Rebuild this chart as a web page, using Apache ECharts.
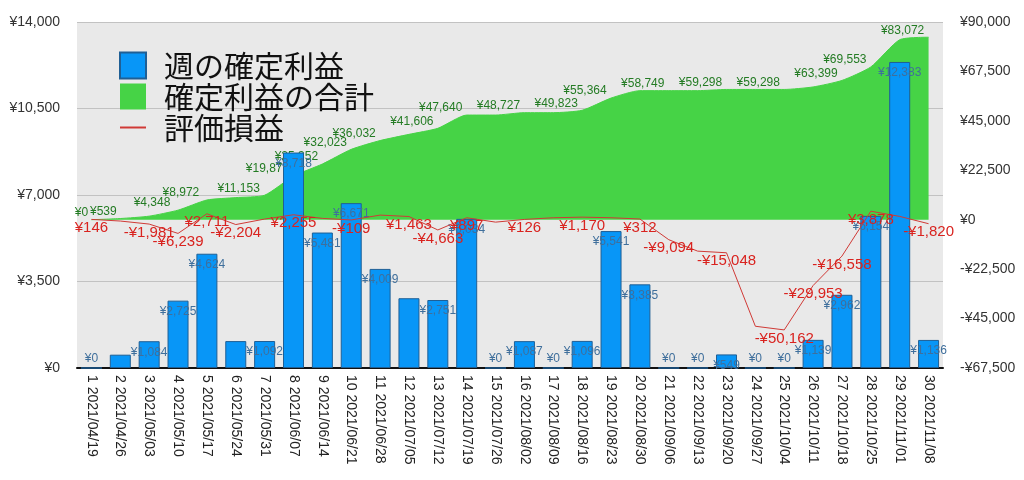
<!DOCTYPE html>
<html>
<head>
<meta charset="utf-8">
<script src="https://cdn.jsdelivr.net/npm/echarts@6/dist/echarts.min.js"></script>
<style>
  html, body { margin: 0; padding: 0; background: #fff; }
  #main { width: 1024px; height: 480px; }
</style>
</head>
<body>
<div id="main"></div>
<script>
  const weeks = [
    '1 2021/04/19', '2 2021/04/26', '3 2021/05/03', '4 2021/05/10', '5 2021/05/17',
    '6 2021/05/24', '7 2021/05/31', '8 2021/06/07', '9 2021/06/14', '10 2021/06/21',
    '11 2021/06/28', '12 2021/07/05', '13 2021/07/12', '14 2021/07/19', '15 2021/07/26',
    '16 2021/08/02', '17 2021/08/09', '18 2021/08/16', '19 2021/08/23', '20 2021/08/30',
    '21 2021/09/06', '22 2021/09/13', '23 2021/09/20', '24 2021/09/27', '25 2021/10/04',
    '26 2021/10/11', '27 2021/10/18', '28 2021/10/25', '29 2021/11/01', '30 2021/11/08',
  ]
  // 週の確定利益
  const weeklyProfit = [
    0, 539, 1084, 2725, 4624, 1089, 1092, 8718, 5481, 6671,
    4009, 2823, 2751, 6034, 0, 1087, 0, 1096, 5541, 3385,
    0, 0, 549, 0, 0, 1139, 2962, 6154, 12383, 1136,
  ]
  // 確定利益の合計
  const totalProfit = [
    0, 539, 1623, 4348, 8972, 10061, 11153, 19871, 25352, 32023,
    36032, 38855, 41606, 47640, 47640, 48727, 48727, 49823, 55364, 58749,
    58749, 58749, 59298, 59298, 59298, 60437, 63399, 69553, 81936, 83072,
  ]
  // 評価損益
  const unrealized = [
    146, -600, -1981, -6239, 2711, -2204, 300, 2255, 600, -109,
    2100, 1463, -4663, 897, -1100, 126, 900, 1170, 900, 312,
    -9094, -14300, -15048, -48500, -50162, -29953, -16558, 3878, 1500, -1820,
  ]
  const leftTicks = { min: 0, max: 14000, interval: 3500 }
  const rightTicks = { min: -67500, max: 90000, interval: 22500 }

  // which points carry a value label (1-based week numbers)
  const weeklyNoLabel = [2, 6, 12]
  const totalWithLabel = [1, 2, 4, 5, 7, 8, 9, 10, 11, 13, 14, 16, 18, 19, 21, 23, 25, 27, 28, 30]
  const unrealizedWithLabel = [1, 3, 4, 5, 6, 8, 10, 12, 13, 14, 16, 18, 20, 21, 23, 25, 26, 27, 28, 30]

  const yen = (v) => (v < 0 ? '-' : '') + '¥' + Math.abs(v).toLocaleString('en-US')
  const font = "'Liberation Sans', 'Noto Sans CJK JP', sans-serif"
  // an empty marker: the line keeps its labels, the legend shows only the stroke
  const noMarker = 'path://M0,0L1,1'

  const chart = echarts.init(document.getElementById('main'))

  const option = {
    animation: false,
    textStyle: { fontFamily: font },
    grid: {
      left: 77,
      right: 81,
      top: 22,
      bottom: 112,
      show: true,
      backgroundColor: '#e9e9e9',
      borderWidth: 0,
    },
    legend: {
      left: 119,
      top: 50,
      padding: 0,
      orient: 'vertical',
      itemWidth: 26,
      itemHeight: 26,
      itemGap: 0,
      textStyle: {
        fontSize: 30,
        lineHeight: 31,
        color: '#111',
        fontFamily: "'Noto Sans CJK JP', sans-serif",
        padding: [0, 0, 0, 13],
      },
      data: [
        { name: '週の確定利益', icon: 'rect' },
        { name: '確定利益の合計', icon: 'rect' },
        { name: '評価損益' },
      ],
    },
    xAxis: {
      type: 'category',
      data: weeks,
      axisLine: { lineStyle: { color: '#111', width: 2 } },
      axisTick: { show: false },
      axisLabel: {
        rotate: -90,
        interval: 0,
        margin: 7,
        fontSize: 14,
        color: '#222',
      },
    },
    yAxis: [
      {
        type: 'value',
        min: leftTicks.min,
        max: leftTicks.max,
        interval: leftTicks.interval,
        axisLine: { show: false },
        axisTick: { show: false },
        splitLine: { lineStyle: { color: '#c2c2c2', width: 1 } },
        axisLabel: { fontSize: 14, color: '#333', margin: 17, formatter: yen },
      },
      {
        type: 'value',
        min: rightTicks.min,
        max: rightTicks.max,
        interval: rightTicks.interval,
        axisLine: { show: false },
        axisTick: { show: false },
        splitLine: { show: false },
        axisLabel: { fontSize: 14, color: '#333', margin: 17, formatter: yen },
      },
    ],
    series: [
      {
        name: '確定利益の合計',
        type: 'line',
        z: 1,
        yAxisIndex: 1,
        smooth: 0.2,
        symbol: 'circle',
        symbolSize: 0.01,
        showSymbol: true,
        itemStyle: { color: '#46d346' },
        lineStyle: { color: '#46d346', width: 1 },
        areaStyle: { color: '#46d346', opacity: 1 },
        label: {
          show: true,
          position: 'top',
          distance: 1,
          fontSize: 12,
          color: '#237b23',
          formatter: (p) => yen(p.value),
        },
        data: totalProfit.map((v, i) => ({
          value: v,
          label: {
            show: totalWithLabel.includes(i + 1),
            offset: i === 0 ? [-10, 0] : i === 1 ? [-17, 0] : [-26, 0],
          },
        })),
      },
      {
        name: '週の確定利益',
        type: 'bar',
        z: 3,
        yAxisIndex: 0,
        barWidth: 21,
        itemStyle: { color: '#0896f7', borderColor: '#1f5f95', borderWidth: 1 },
        label: {
          show: true,
          position: 'insideTop',
          fontSize: 12,
          color: '#3f6f9c',
          formatter: (p) => yen(p.value),
        },
        data: weeklyProfit.map((v, i) => {
          if (weeklyNoLabel.includes(i + 1)) return { value: v, label: { show: false } }
          if (v === 0) return { value: v, label: { position: 'top', distance: 3 } }
          return v
        }),
      },
      {
        name: '評価損益',
        type: 'line',
        z: 4,
        yAxisIndex: 1,
        symbol: noMarker,
        symbolSize: 0.01,
        showSymbol: true,
        itemStyle: { color: '#d03a36', borderWidth: 0 },
        lineStyle: { color: '#d03a36', width: 1 },
        label: {
          show: true,
          position: 'bottom',
          distance: 1,
          fontSize: 15,
          color: '#d9231f',
          formatter: (p) => yen(p.value),
        },
        data: unrealized.map((v, i) => ({
          value: v,
          label: { show: unrealizedWithLabel.includes(i + 1) },
        })),
      },
    ],
  }
  chart.setOption(option)
</script>
</body>
</html>
